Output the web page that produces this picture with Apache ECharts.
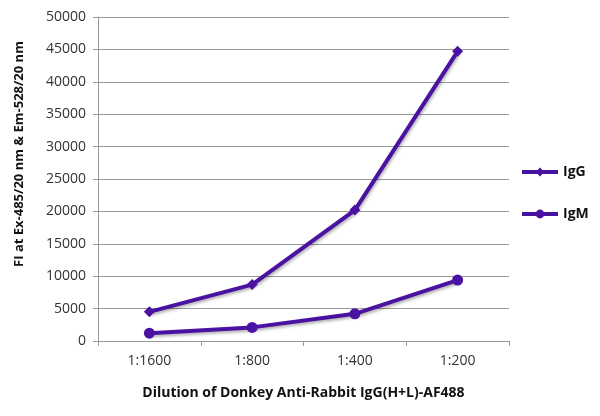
<!DOCTYPE html>
<html>
<head>
<meta charset="utf-8">
<script src="https://cdn.jsdelivr.net/npm/echarts@6/dist/echarts.min.js"></script>
<style>html,body{margin:0;padding:0;background:#fff}#c{width:600px;height:416px}</style>
</head>
<body>
<div id="c"></div>
<script>
const categories = ['1:1600', '1:800', '1:400', '1:200'];
const igG = [4500, 8700, 20200, 44700];
const igM = [1200, 2100, 4200, 9400];
const yTicks = [0, 50000, 5000];

const color = '#4a12a0';
const font = '"Open Sans", Lato, sans-serif';
const chart = echarts.init(document.getElementById('c'));
const lineStyle = {width: 4, color: color, shadowColor: 'rgba(0,0,0,0.3)', shadowBlur: 3, shadowOffsetX: 1, shadowOffsetY: 2};
chart.setOption({
  animation: false,
  grid: {left: 98, right: 91, top: 17, bottom: 75, containLabel: false},
  legend: {
    orient: 'vertical', left: 515, top: 160, itemGap: 28, itemWidth: 36, itemHeight: 11,
    lineStyle: {width: 4},
    textStyle: {fontFamily: font, fontWeight: 'bold', fontSize: 14, color: '#111'},
    data: ['IgG', 'IgM']
  },
  xAxis: {
    type: 'category', data: categories, boundaryGap: true,
    name: 'Dilution of Donkey Anti-Rabbit IgG(H+L)-AF488', nameLocation: 'middle', nameGap: 45,
    nameTextStyle: {fontFamily: font, fontWeight: 'bold', fontSize: 14, color: '#111'},
    axisLine: {lineStyle: {color: '#999', width: 1}},
    axisTick: {show: true, length: 5, lineStyle: {color: '#999'}},
    axisLabel: {fontFamily: font, fontSize: 14, color: '#333', margin: 13}
  },
  yAxis: {
    type: 'value', min: yTicks[0], max: yTicks[1], interval: yTicks[2],
    name: 'FI at Ex-485/20 nm & Em-528/20 nm', nameLocation: 'middle', nameGap: 72,
    nameTextStyle: {fontFamily: font, fontWeight: 'bold', fontSize: 13, color: '#111', padding: [0, 0, 0, 50]},
    axisLine: {show: true, lineStyle: {color: '#999', width: 1}},
    axisTick: {show: true, length: 5, lineStyle: {color: '#999'}},
    axisLabel: {fontFamily: font, fontSize: 14, color: '#333', margin: 12, formatter: v => String(v)},
    splitLine: {lineStyle: {color: '#999', width: 1}}
  },
  series: [
    {name: 'IgG', type: 'line', data: igG, symbol: 'diamond', symbolSize: 11,
     itemStyle: {color: color}, lineStyle: lineStyle},
    {name: 'IgM', type: 'line', data: igM, symbol: 'circle', symbolSize: 11,
     itemStyle: {color: color}, lineStyle: lineStyle}
  ]
});
</script>
</body>
</html>
